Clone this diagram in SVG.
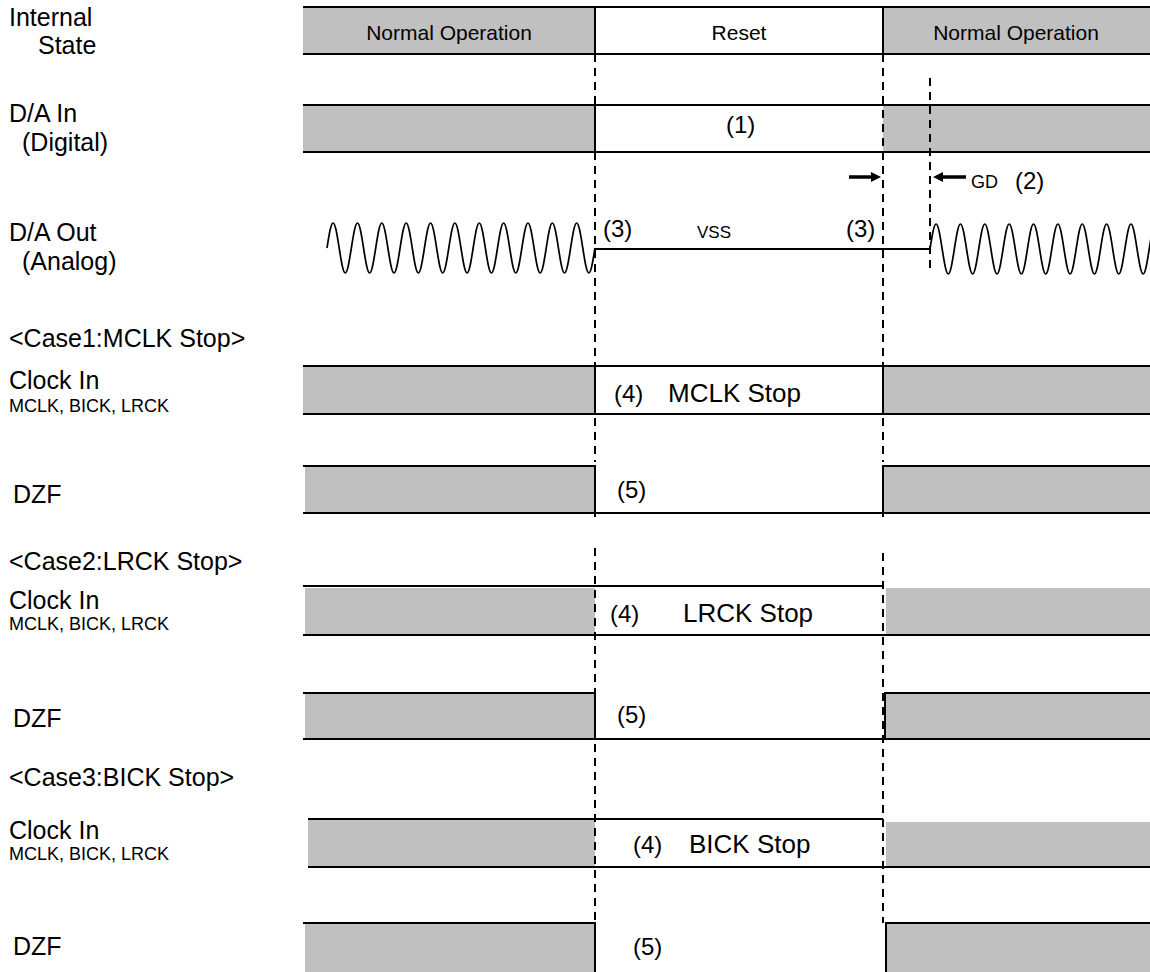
<svg xmlns="http://www.w3.org/2000/svg" width="1150" height="972" viewBox="0 0 1150 972">
<defs>
<style>
text{font-family:"Liberation Sans",Arial,sans-serif;fill:#000}
.lbl{font-size:25px}
.sm{font-size:18px}
.st{font-size:21px;text-anchor:middle}
.num{font-size:24px}
.big{font-size:26px}
.g{fill:#c0c0c0;stroke:none}
.ln{stroke:#000;stroke-width:2;fill:none}
.dash{stroke:#000;stroke-width:2;stroke-dasharray:8 6;fill:none}
.wave{stroke:#000;stroke-width:1.7;fill:none}
.arr{stroke:#000;stroke-width:3.5;fill:none;marker-end:url(#ah)}
</style>
<marker id="ah" viewBox="0 0 10 10" refX="1" refY="5" markerWidth="10" markerHeight="10" markerUnits="userSpaceOnUse" orient="auto">
<path d="M0,0L10,5L0,10z" fill="#000"/>
</marker>
</defs>
<rect width="1150" height="972" fill="#fff"/>

<g id="labels">
<text class="lbl" x="9" y="26">Internal</text>
<text class="lbl" x="38" y="54">State</text>
<text class="lbl" x="9" y="122">D/A In</text>
<text class="lbl" x="22" y="151">(Digital)</text>
<text class="lbl" x="9" y="241">D/A Out</text>
<text class="lbl" x="22" y="270">(Analog)</text>
<text class="lbl" x="9" y="347">&lt;Case1:MCLK Stop&gt;</text>
<text class="lbl" x="9" y="389">Clock In</text>
<text class="sm" x="9" y="412">MCLK, BICK, LRCK</text>
<text class="lbl" x="13" y="503">DZF</text>
<text class="lbl" x="9" y="570">&lt;Case2:LRCK Stop&gt;</text>
<text class="lbl" x="9" y="609">Clock In</text>
<text class="sm" x="9" y="630">MCLK, BICK, LRCK</text>
<text class="lbl" x="13" y="727">DZF</text>
<text class="lbl" x="9" y="786">&lt;Case3:BICK Stop&gt;</text>
<text class="lbl" x="9" y="839">Clock In</text>
<text class="sm" x="9" y="860">MCLK, BICK, LRCK</text>
<text class="lbl" x="13" y="955">DZF</text>
</g>

<g id="internal-state">
<rect class="g" x="303" y="7" width="292" height="47"/>
<rect class="g" x="883" y="7" width="267" height="47"/>
<path class="ln" d="M303,7H1150M303,54H1150M595,7V54M883,7V54"/>
<text class="st" x="449" y="40">Normal Operation</text>
<text class="st" x="739" y="40">Reset</text>
<text class="st" x="1016" y="40">Normal Operation</text>
</g>

<g id="da-in">
<rect class="g" x="303" y="105" width="292" height="47"/>
<rect class="g" x="883" y="105" width="267" height="47"/>
<path class="ln" d="M303,105H1150M303,152H1150M595,105V152"/>
<text class="num" x="726" y="133">(1)</text>
</g>

<g id="da-out">
<path class="wave" d="M327,248c1.986,-12.81 3.886,-25 6.09,-25
s4.104,12.19 6.09,25 s3.886,25 6.09,25 s4.104,-12.19 6.09,-25 s3.886,-25 6.09,-25
s4.104,12.19 6.09,25 s3.886,25 6.09,25 s4.104,-12.19 6.09,-25 s3.886,-25 6.09,-25
s4.104,12.19 6.09,25 s3.886,25 6.09,25 s4.104,-12.19 6.09,-25 s3.886,-25 6.09,-25
s4.104,12.19 6.09,25 s3.886,25 6.09,25 s4.104,-12.19 6.09,-25 s3.886,-25 6.09,-25
s4.104,12.19 6.09,25 s3.886,25 6.09,25 s4.104,-12.19 6.09,-25 s3.886,-25 6.09,-25
s4.104,12.19 6.09,25 s3.886,25 6.09,25 s4.104,-12.19 6.09,-25 s3.886,-25 6.09,-25
s4.104,12.19 6.09,25 s3.886,25 6.09,25 s4.104,-12.19 6.09,-25 s3.886,-25 6.09,-25
s4.104,12.19 6.09,25 s3.886,25 6.09,25 s4.104,-12.19 6.09,-25 s3.886,-25 6.09,-25
s4.104,12.19 6.09,25 s3.886,25 6.09,25 s4.104,-12.19 6.09,-25 s3.886,-25 6.09,-25
s4.104,12.19 6.09,25 s3.886,25 6.09,25 s4.104,-12.19 6.09,-25 s3.886,-25 6.09,-25
s4.104,12.19 6.09,25 s3.886,25 6.09,25 s4.104,-12.19 6.09,-25"/>
<path class="ln" d="M595,249H930"/>
<path class="wave" d="M930,249c1.986,-12.81 3.886,-25 6.09,-25
s4.104,12.19 6.09,25 s3.886,25 6.09,25 s4.104,-12.19 6.09,-25 s3.886,-25 6.09,-25
s4.104,12.19 6.09,25 s3.886,25 6.09,25 s4.104,-12.19 6.09,-25 s3.886,-25 6.09,-25
s4.104,12.19 6.09,25 s3.886,25 6.09,25 s4.104,-12.19 6.09,-25 s3.886,-25 6.09,-25
s4.104,12.19 6.09,25 s3.886,25 6.09,25 s4.104,-12.19 6.09,-25 s3.886,-25 6.09,-25
s4.104,12.19 6.09,25 s3.886,25 6.09,25 s4.104,-12.19 6.09,-25 s3.886,-25 6.09,-25
s4.104,12.19 6.09,25 s3.886,25 6.09,25 s4.104,-12.19 6.09,-25 s3.886,-25 6.09,-25
s4.104,12.19 6.09,25 s3.886,25 6.09,25 s4.104,-12.19 6.09,-25 s3.886,-25 6.09,-25
s4.104,12.19 6.09,25 s3.886,25 6.09,25 s4.104,-12.19 6.09,-25 s3.886,-25 6.09,-25
s4.104,12.19 6.09,25 s3.886,25 6.09,25 s4.104,-12.19 6.09,-25 s3.886,-25 6.09,-25"/>
<text class="num" x="603" y="237">(3)</text>
<text x="714" y="238" font-size="17" text-anchor="middle">VSS</text>
<text class="num" x="846" y="237">(3)</text>
<text x="971" y="188" font-size="18">GD</text>
<text class="num" x="1015" y="189">(2)</text>
</g>

<g id="case1-clock">
<rect class="g" x="303" y="366" width="292" height="48"/>
<rect class="g" x="883" y="366" width="267" height="48"/>
<path class="ln" d="M303,366H1150M303,414H1150M595,366V414M883,366V414"/>
<text class="num" x="614" y="402">(4)</text>
<text class="big" x="668" y="402">MCLK Stop</text>
</g>

<g id="case1-dzf">
<rect class="g" x="305" y="466" width="290" height="47"/>
<rect class="g" x="883" y="466" width="267" height="47"/>
<path class="ln" d="M303,466H595V517M303,513H1150M883,517V466H1150"/>
<text class="num" x="617" y="498">(5)</text>
</g>

<g id="case2-clock">
<rect class="g" x="305" y="588" width="290" height="47"/>
<rect class="g" x="886" y="588" width="264" height="47"/>
<path class="ln" d="M303,586H883M303,635H1150"/>
<text class="num" x="610" y="622">(4)</text>
<text class="big" x="683" y="622">LRCK Stop</text>
</g>

<g id="case2-dzf">
<rect class="g" x="305" y="693" width="290" height="46"/>
<rect class="g" x="885" y="693" width="265" height="46"/>
<path class="ln" d="M303,693H595V739M303,739H1150M885,739V693H1150"/>
<text class="num" x="617" y="723">(5)</text>
</g>

<g id="case3-clock">
<rect class="g" x="308" y="820" width="287" height="47"/>
<rect class="g" x="886" y="822" width="264" height="45"/>
<path class="ln" d="M308,819H883M308,867H1150"/>
<text class="num" x="633" y="853">(4)</text>
<text class="big" x="689" y="853">BICK Stop</text>
</g>

<g id="case3-dzf">
<rect class="g" x="305" y="923" width="290" height="49"/>
<rect class="g" x="886" y="923" width="264" height="49"/>
<path class="ln" d="M303,923H595V972M886,972V923H1150"/>
<text class="num" x="633" y="955">(5)</text>
</g>

<g id="connectors">
<path class="dash" d="M595,54V462M595,548V923"/>
<path class="dash" d="M883,54V462M883,553V923"/>
<path class="dash" d="M930,78V274"/>
<line class="arr" x1="849" y1="177" x2="872" y2="177"/>
<line class="arr" x1="966" y1="177" x2="942" y2="177"/>
</g>
</svg>
